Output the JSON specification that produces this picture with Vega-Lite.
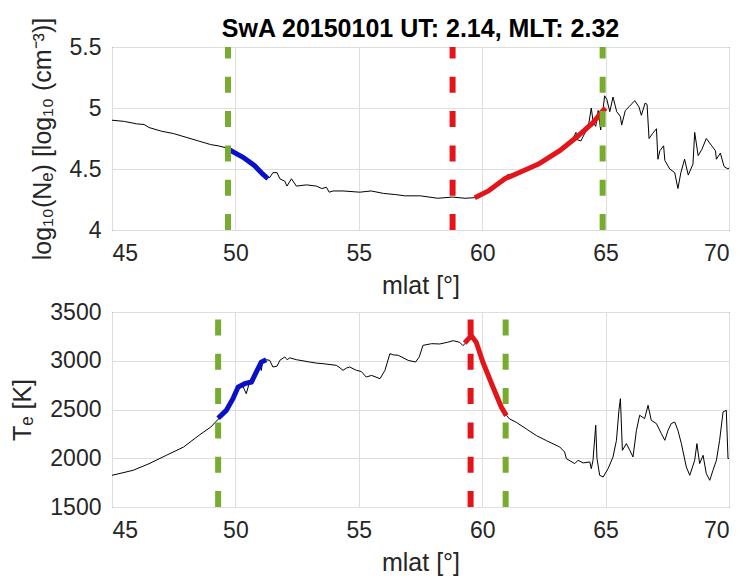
{
  "$schema": "https://vega.github.io/schema/vega-lite/v6.json",
  "background": "white",
  "padding": {"left": 10, "top": 16, "right": 5, "bottom": 0},
  "config": {
    "font": "Liberation Sans",
    "view": {"stroke": "#262626", "strokeWidth": 1},
    "axis": {
      "labelFont": "Liberation Sans", "labelFontSize": 23, "labelColor": "#262626",
      "titleFont": "Liberation Sans", "titleFontSize": 25, "titleFontWeight": "normal", "titleColor": "#262626",
      "grid": true, "gridColor": "#dedede", "ticks": false, "domain": false
    },
    "axisX": {"labelPadding": 12, "titlePadding": 8},
    "axisY": {"labelPadding": 11, "titlePadding": 14}
  },
  "datasets": {
    "ne_black": [
      {"mlat":45.0,"val":4.90},{"mlat":45.5,"val":4.89},{"mlat":46.0,"val":4.87},{"mlat":46.3,"val":4.865},{"mlat":46.5,"val":4.84},
      {"mlat":47.0,"val":4.81},{"mlat":47.5,"val":4.79},{"mlat":48.0,"val":4.76},{"mlat":48.5,"val":4.73},{"mlat":49.0,"val":4.70},
      {"mlat":49.3,"val":4.69},{"mlat":49.7,"val":4.67},{"mlat":50.0,"val":4.63},{"mlat":50.3,"val":4.60},{"mlat":50.8,"val":4.52},
      {"mlat":51.2,"val":4.44},{"mlat":51.39,"val":4.43},{"mlat":51.52,"val":4.47},{"mlat":51.69,"val":4.47},{"mlat":51.8,"val":4.42},
      {"mlat":52.0,"val":4.40},{"mlat":52.09,"val":4.36},{"mlat":52.27,"val":4.42},{"mlat":52.47,"val":4.36},{"mlat":52.88,"val":4.37},
      {"mlat":53.28,"val":4.36},{"mlat":53.5,"val":4.34},{"mlat":53.69,"val":4.35},{"mlat":53.8,"val":4.31},{"mlat":53.96,"val":4.32},
      {"mlat":54.36,"val":4.32},{"mlat":55.04,"val":4.31},
      {"mlat":55.5,"val":4.32},{"mlat":56.0,"val":4.30},{"mlat":56.5,"val":4.29},{"mlat":56.86,"val":4.28},{"mlat":57.5,"val":4.28},
      {"mlat":58.2,"val":4.26},{"mlat":58.8,"val":4.27},{"mlat":59.3,"val":4.26},{"mlat":59.7,"val":4.265},{"mlat":60.25,"val":4.32},
      {"mlat":60.92,"val":4.42},{"mlat":61.0,"val":4.45},{"mlat":61.5,"val":4.47},{"mlat":62.28,"val":4.54},{"mlat":63.0,"val":4.63},
      {"mlat":63.6,"val":4.72},{"mlat":63.8,"val":4.80},{"mlat":63.85,"val":4.74},{"mlat":64.0,"val":4.73},{"mlat":64.3,"val":4.85},
      {"mlat":64.42,"val":5.00},{"mlat":64.5,"val":4.88},{"mlat":64.6,"val":4.85},{"mlat":64.7,"val":4.98},{"mlat":64.8,"val":4.82},
      {"mlat":64.96,"val":5.10},{"mlat":65.05,"val":5.07},{"mlat":65.17,"val":4.97},{"mlat":65.3,"val":5.09},{"mlat":65.45,"val":4.97},
      {"mlat":65.6,"val":4.93},{"mlat":65.65,"val":4.86},{"mlat":65.8,"val":4.98},{"mlat":65.95,"val":5.01},{"mlat":66.18,"val":5.06},
      {"mlat":66.35,"val":5.01},{"mlat":66.45,"val":4.94},{"mlat":66.6,"val":5.04},{"mlat":66.68,"val":5.03},{"mlat":66.76,"val":4.75},
      {"mlat":66.9,"val":4.79},{"mlat":67.06,"val":4.83},{"mlat":67.12,"val":4.58},{"mlat":67.2,"val":4.65},{"mlat":67.35,"val":4.69},
      {"mlat":67.4,"val":4.57},{"mlat":67.6,"val":4.50},{"mlat":67.8,"val":4.47},{"mlat":67.93,"val":4.34},{"mlat":68.05,"val":4.47},
      {"mlat":68.2,"val":4.58},{"mlat":68.35,"val":4.45},{"mlat":68.54,"val":4.54},{"mlat":68.61,"val":4.80},{"mlat":68.75,"val":4.61},
      {"mlat":68.9,"val":4.66},{"mlat":69.08,"val":4.75},{"mlat":69.3,"val":4.69},{"mlat":69.45,"val":4.65},{"mlat":69.49,"val":4.58},
      {"mlat":69.65,"val":4.63},{"mlat":69.8,"val":4.52},{"mlat":69.96,"val":4.50},{"mlat":70.0,"val":4.51}
    ],
    "ne_blue": [
      {"mlat":49.74,"val":4.66},{"mlat":50.0,"val":4.63},{"mlat":50.31,"val":4.596},{"mlat":50.78,"val":4.527},{"mlat":51.1,"val":4.46},{"mlat":51.32,"val":4.42}
    ],
    "ne_red": [
      {"mlat":59.7,"val":4.265},{"mlat":60.25,"val":4.32},{"mlat":60.92,"val":4.42},{"mlat":61.6,"val":4.48},{"mlat":62.28,"val":4.54},
      {"mlat":63.14,"val":4.65},{"mlat":63.82,"val":4.76},{"mlat":64.49,"val":4.88},{"mlat":64.9,"val":4.98},{"mlat":65.0,"val":5.0}
    ],
    "ne_green_lines": [{"mlat":49.7},{"mlat":64.88}],
    "ne_red_lines": [{"mlat":58.8}],
    "te_black": [
      {"mlat":45.0,"val":1825},{"mlat":45.85,"val":1876},{"mlat":46.5,"val":1944},{"mlat":47.2,"val":2030},{"mlat":47.9,"val":2115},
      {"mlat":48.55,"val":2240},{"mlat":49.0,"val":2320},{"mlat":49.3,"val":2400},{"mlat":49.63,"val":2480},{"mlat":49.9,"val":2600},
      {"mlat":50.11,"val":2720},{"mlat":50.3,"val":2740},{"mlat":50.44,"val":2662},{"mlat":50.55,"val":2760},{"mlat":50.65,"val":2780},
      {"mlat":50.85,"val":2880},{"mlat":51.0,"val":2960},{"mlat":51.05,"val":2900},{"mlat":51.1,"val":2990},{"mlat":51.25,"val":3011},
      {"mlat":51.39,"val":3004},{"mlat":51.52,"val":2936},{"mlat":51.69,"val":2945},{"mlat":51.8,"val":3004},{"mlat":52.0,"val":3039},
      {"mlat":52.1,"val":3010},{"mlat":52.2,"val":3030},{"mlat":52.47,"val":3011},{"mlat":53.01,"val":2987},{"mlat":53.3,"val":2975},
      {"mlat":53.55,"val":2970},{"mlat":54.09,"val":2953},{"mlat":54.2,"val":2935},{"mlat":54.36,"val":2902},{"mlat":54.5,"val":2925},
      {"mlat":54.63,"val":2936},{"mlat":54.9,"val":2902},{"mlat":55.1,"val":2890},{"mlat":55.3,"val":2833},{"mlat":55.52,"val":2850},
      {"mlat":55.86,"val":2816},{"mlat":56.06,"val":2902},{"mlat":56.26,"val":3073},{"mlat":56.4,"val":3060},{"mlat":56.6,"val":3056},
      {"mlat":57.0,"val":3004},{"mlat":57.3,"val":2987},{"mlat":57.45,"val":3040},{"mlat":57.6,"val":3158},{"mlat":57.95,"val":3175},
      {"mlat":58.28,"val":3172},{"mlat":58.6,"val":3190},{"mlat":58.82,"val":3206},{"mlat":59.09,"val":3189},{"mlat":59.22,"val":3155},
      {"mlat":59.4,"val":3200},{"mlat":59.6,"val":3230},{"mlat":59.8,"val":3180},{"mlat":60.0,"val":3000},{"mlat":60.2,"val":2900},
      {"mlat":60.5,"val":2720},{"mlat":60.8,"val":2530},{"mlat":60.98,"val":2440},{"mlat":61.11,"val":2403},{"mlat":61.38,"val":2369},
      {"mlat":61.79,"val":2300},{"mlat":62.2,"val":2232},{"mlat":62.6,"val":2181},{"mlat":63.14,"val":2116},{"mlat":63.34,"val":2064},
      {"mlat":63.41,"val":1996},{"mlat":63.75,"val":1945},{"mlat":63.88,"val":1979},{"mlat":64.09,"val":1952},{"mlat":64.36,"val":1962},
      {"mlat":64.42,"val":1893},{"mlat":64.49,"val":1979},{"mlat":64.6,"val":2338},{"mlat":64.65,"val":2000},{"mlat":64.76,"val":1825},
      {"mlat":64.9,"val":1808},{"mlat":65.1,"val":1893},{"mlat":65.3,"val":2013},{"mlat":65.44,"val":2184},{"mlat":65.54,"val":2492},
      {"mlat":65.6,"val":2611},{"mlat":65.68,"val":2081},{"mlat":65.84,"val":2150},{"mlat":65.98,"val":2081},{"mlat":66.11,"val":2013},
      {"mlat":66.25,"val":2287},{"mlat":66.38,"val":2441},{"mlat":66.58,"val":2406},{"mlat":66.72,"val":2543},{"mlat":66.85,"val":2389},
      {"mlat":67.06,"val":2355},{"mlat":67.26,"val":2252},{"mlat":67.4,"val":2184},{"mlat":67.53,"val":2287},{"mlat":67.66,"val":2355},
      {"mlat":67.8,"val":2372},{"mlat":67.93,"val":2287},{"mlat":68.07,"val":2150},{"mlat":68.27,"val":1911},{"mlat":68.41,"val":1825},
      {"mlat":68.61,"val":1979},{"mlat":68.7,"val":2150},{"mlat":68.81,"val":1945},{"mlat":68.95,"val":2030},{"mlat":69.08,"val":1842},
      {"mlat":69.22,"val":1774},{"mlat":69.35,"val":1876},{"mlat":69.49,"val":1979},{"mlat":69.62,"val":2184},{"mlat":69.76,"val":2475},
      {"mlat":69.89,"val":2492},{"mlat":69.96,"val":1996},{"mlat":70.0,"val":2000}
    ],
    "te_blue": [
      {"mlat":49.3,"val":2410},{"mlat":49.63,"val":2491},{"mlat":49.9,"val":2611},{"mlat":50.11,"val":2731},{"mlat":50.38,"val":2765},
      {"mlat":50.65,"val":2782},{"mlat":50.85,"val":2885},{"mlat":51.05,"val":2987},{"mlat":51.25,"val":3011}
    ],
    "te_red": [
      {"mlat":59.29,"val":3182},{"mlat":59.56,"val":3258},{"mlat":59.76,"val":3189},{"mlat":60.03,"val":2984},{"mlat":60.44,"val":2728},
      {"mlat":60.78,"val":2523},{"mlat":60.98,"val":2437}
    ],
    "te_green_lines": [{"mlat":49.3},{"mlat":60.95}],
    "te_red_lines": [{"mlat":59.53}]
  },
  "spacing": 1,
  "vconcat": [
    {
      "title": {"text": "SwA 20150101 UT: 2.14, MLT: 2.32", "fontSize": 25, "fontWeight": "bold", "anchor": "middle", "frame": "group", "color": "#000000", "offset": -6, "dy": 19, "font": "Liberation Sans"},
      "width": 617,
      "height": 183,
      "layer": [
        {
          "data": {"name": "ne_black"},
          "mark": {"type": "line", "color": "black", "strokeWidth": 1},
          "encoding": {
            "x": {"field": "mlat", "type": "quantitative", "scale": {"domain": [45, 70], "nice": false}, "axis": {"title": "mlat [°]", "values": [45, 50, 55, 60, 65, 70]}},
            "y": {"field": "val", "type": "quantitative", "scale": {"domain": [4, 5.5], "nice": false, "zero": false}, "axis": {"title": "log₁₀(Nₑ) [log₁₀ (cm⁻³)]", "values": [4, 4.5, 5, 5.5], "format": "~g"}}
          }
        },
        {
          "data": {"name": "ne_blue"},
          "mark": {"type": "line", "color": "#0a10c8", "strokeWidth": 5},
          "encoding": {
            "x": {"field": "mlat", "type": "quantitative"},
            "y": {"field": "val", "type": "quantitative"}
          }
        },
        {
          "data": {"name": "ne_red"},
          "mark": {"type": "line", "color": "#e3141a", "strokeWidth": 5},
          "encoding": {
            "x": {"field": "mlat", "type": "quantitative"},
            "y": {"field": "val", "type": "quantitative"}
          }
        },
        {
          "data": {"name": "ne_green_lines"},
          "mark": {"type": "rule", "color": "#77ac30", "strokeWidth": 6, "strokeDash": [16, 18.3]},
          "encoding": {"x": {"field": "mlat", "type": "quantitative"}, "y": {"datum": 4}, "y2": {"datum": 5.5}}
        },
        {
          "data": {"name": "ne_red_lines"},
          "mark": {"type": "rule", "color": "#e3141a", "strokeWidth": 6, "strokeDash": [16, 18.3]},
          "encoding": {"x": {"field": "mlat", "type": "quantitative"}, "y": {"datum": 4}, "y2": {"datum": 5.5}}
        }
      ]
    },
    {
      "width": 617,
      "height": 195,
      "layer": [
        {
          "data": {"name": "te_black"},
          "mark": {"type": "line", "color": "black", "strokeWidth": 1},
          "encoding": {
            "x": {"field": "mlat", "type": "quantitative", "scale": {"domain": [45, 70], "nice": false}, "axis": {"title": "mlat [°]", "values": [45, 50, 55, 60, 65, 70]}},
            "y": {"field": "val", "type": "quantitative", "scale": {"domain": [1500, 3500], "nice": false, "zero": false}, "axis": {"title": "Tₑ [K]", "values": [1500, 2000, 2500, 3000, 3500], "format": "d"}}
          }
        },
        {
          "data": {"name": "te_blue"},
          "mark": {"type": "line", "color": "#0a10c8", "strokeWidth": 5},
          "encoding": {
            "x": {"field": "mlat", "type": "quantitative"},
            "y": {"field": "val", "type": "quantitative"}
          }
        },
        {
          "data": {"name": "te_red"},
          "mark": {"type": "line", "color": "#e3141a", "strokeWidth": 5},
          "encoding": {
            "x": {"field": "mlat", "type": "quantitative"},
            "y": {"field": "val", "type": "quantitative"}
          }
        },
        {
          "data": {"name": "te_green_lines"},
          "mark": {"type": "rule", "color": "#77ac30", "strokeWidth": 6, "strokeDash": [16, 18.3]},
          "encoding": {"x": {"field": "mlat", "type": "quantitative"}, "y": {"datum": 1500}, "y2": {"datum": 3500}}
        },
        {
          "data": {"name": "te_red_lines"},
          "mark": {"type": "rule", "color": "#e3141a", "strokeWidth": 6, "strokeDash": [16, 18.3]},
          "encoding": {"x": {"field": "mlat", "type": "quantitative"}, "y": {"datum": 1500}, "y2": {"datum": 3500}}
        }
      ]
    }
  ]
}
